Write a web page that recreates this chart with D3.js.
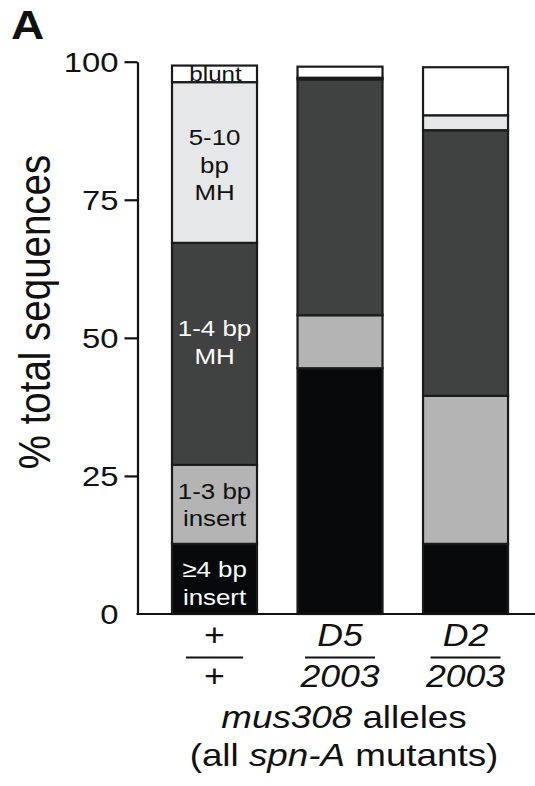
<!DOCTYPE html>
<html>
<head>
<meta charset="utf-8">
<script src="https://cdn.jsdelivr.net/npm/d3@7"></script>
<style>
  html, body { margin: 0; padding: 0; background: #fff; }
  svg { display: block; }
  text { font-family: "Liberation Sans", Arial, Helvetica, sans-serif; fill: #111; }
</style>
</head>
<body>
<svg id="chart" width="535" height="786"></svg>
<script>
// Genotypes (mus308 alleles) shown as stacked bars
const categories = ["+/+", "D5/2003", "D2/2003"];
const numerators = ["+", "D5", "D2"];
const denominators = ["+", "2003", "2003"];

// Junction classes, bottom to top
const classes = ["≥4 bp insert", "1-3 bp insert", "1-4 bp MH", "5-10 bp MH", "blunt"];

// Percent of total sequences per class, one value per genotype
const insert4plus = [12.7, 44.5, 12.7];
const insert1to3  = [14.3, 9.6, 26.8];
const mh1to4      = [40.2, 42.7, 48.1];
const mh5to10     = [29.1, 0.3, 2.7];
const blunt       = [3.0, 2.0, 8.7];

const yTicks = [0, 25, 50, 75, 100];

// Labels written inside the wild-type bar
const classLabels = [["≥4 bp", "insert"], ["1-3 bp", "insert"], ["1-4 bp", "MH"], ["5-10", "bp", "MH"], ["blunt"]];

const fills = ["#08090a", "#b3b4b3", "#404241", "#e6e7e8", "#ffffff"];
const labelFill = ["#ffffff", "#111111", "#ffffff", "#111111", "#111111"];
const labelDy = [4, 0, -12, 2, 0];

const SX = 1.15;   // horizontal stretch applied to all lettering

const series = [insert4plus, insert1to3, mh1to4, mh5to10, blunt];
const rows = categories.map((c, i) => {
  const r = { category: c };
  classes.forEach((k, j) => { r[k] = series[j][i]; });
  return r;
});
const stacked = d3.stack().keys(classes)(rows);

const svg = d3.select("#chart");

const y = d3.scaleLinear().domain([0, 100]).range([614, 61.7]);
const x = d3.scaleBand().domain(categories)
  .range([134.35, 545.7]).paddingInner(0.3227).paddingOuter(0.3);

const axisX = 137.5;

// helper: stretched text anchored at (px, py)
function stretchedText(parent, px, py, anchor) {
  return parent.append("text")
    .attr("transform", `translate(${px},${py}) scale(${SX},1)`)
    .attr("text-anchor", anchor || "middle");
}

// Bars
const layers = svg.append("g").selectAll("g").data(stacked).join("g")
  .attr("fill", (d, i) => fills[i]);

layers.selectAll("rect").data(d => d).join("rect")
  .attr("x", d => x(d.data.category))
  .attr("width", x.bandwidth())
  .attr("y", d => y(d[1]))
  .attr("height", d => y(d[0]) - y(d[1]))
  .attr("stroke", "#1b1b1b")
  .attr("stroke-width", 2.2);

// Class labels inside the first bar
const first = categories[0];
const cx = x(first) + x.bandwidth() / 2;
stacked.forEach((layer, i) => {
  const seg = layer[0];
  const mid = (y(seg[0]) + y(seg[1])) / 2 + labelDy[i];
  const lines = classLabels[i];
  const size = i === 4 ? 21 : 22.5;
  const lh = 27.5;
  const cap = size * 0.716;
  lines.forEach((t, k) => {
    const by = mid - (lines.length - 1) * lh / 2 + k * lh + cap / 2;
    stretchedText(svg, cx + (i === 4 ? 1 : 0), by)
      .attr("font-size", size)
      .style("fill", labelFill[i])
      .text(t);
  });
});

// Y axis
const yAxis = d3.axisLeft(y).tickValues(yTicks).tickSize(13).tickSizeOuter(0).tickFormat(d3.format("d"));
const gy = svg.append("g").attr("transform", `translate(${axisX},0)`).call(yAxis);
gy.select(".domain").attr("stroke", "#111").attr("stroke-width", 2.2);
gy.selectAll(".tick line").attr("stroke", "#111").attr("stroke-width", 2.2)
  .attr("display", d => d === 0 ? "none" : null);
gy.selectAll(".tick text")
  .attr("x", null).attr("dy", null)
  .attr("transform", `translate(-19,0) scale(${SX},1)`)
  .attr("dominant-baseline", "central")
  .attr("font-size", 28.5)
  .attr("font-family", "Liberation Sans, Arial, Helvetica, sans-serif")
  .style("fill", "#111");

// Baseline
svg.append("line")
  .attr("x1", axisX - 1).attr("x2", 535)
  .attr("y1", y(0)).attr("y2", y(0))
  .attr("stroke", "#111").attr("stroke-width", 2.2);

// Y axis title
svg.append("text")
  .attr("transform", `translate(50,312) scale(${SX},1) rotate(-90)`)
  .attr("text-anchor", "middle")
  .attr("font-size", 38.5)
  .text("% total sequences");

// Panel letter
svg.append("text")
  .attr("transform", `translate(11,39) scale(1.15,1)`)
  .style("font-size", "40px").style("font-weight", "bold").text("A");

// Genotype fractions under each bar
const fracW = [57, 70, 70];
categories.forEach((c, i) => {
  const fx = x(c) + x.bandwidth() / 2;
  const italic = i > 0 ? "italic" : "normal";
  stretchedText(svg, fx, 646).attr("font-size", 31).attr("font-style", italic).text(numerators[i]);
  stretchedText(svg, fx, 687).attr("font-size", 31).attr("font-style", italic).text(denominators[i]);
  svg.append("line")
    .attr("x1", fx - fracW[i] / 2).attr("x2", fx + fracW[i] / 2)
    .attr("y1", 657.5).attr("y2", 657.5)
    .attr("stroke", "#111").attr("stroke-width", 2.2);
});

// X axis title
const tx = 344;
const t1 = stretchedText(svg, tx, 728).attr("font-size", 32);
t1.append("tspan").attr("font-style", "italic").text("mus308");
t1.append("tspan").text(" alleles");
const t2 = stretchedText(svg, tx, 766).attr("font-size", 32);
t2.append("tspan").text("(all ");
t2.append("tspan").attr("font-style", "italic").text("spn-A");
t2.append("tspan").text(" mutants)");
</script>
</body>
</html>
